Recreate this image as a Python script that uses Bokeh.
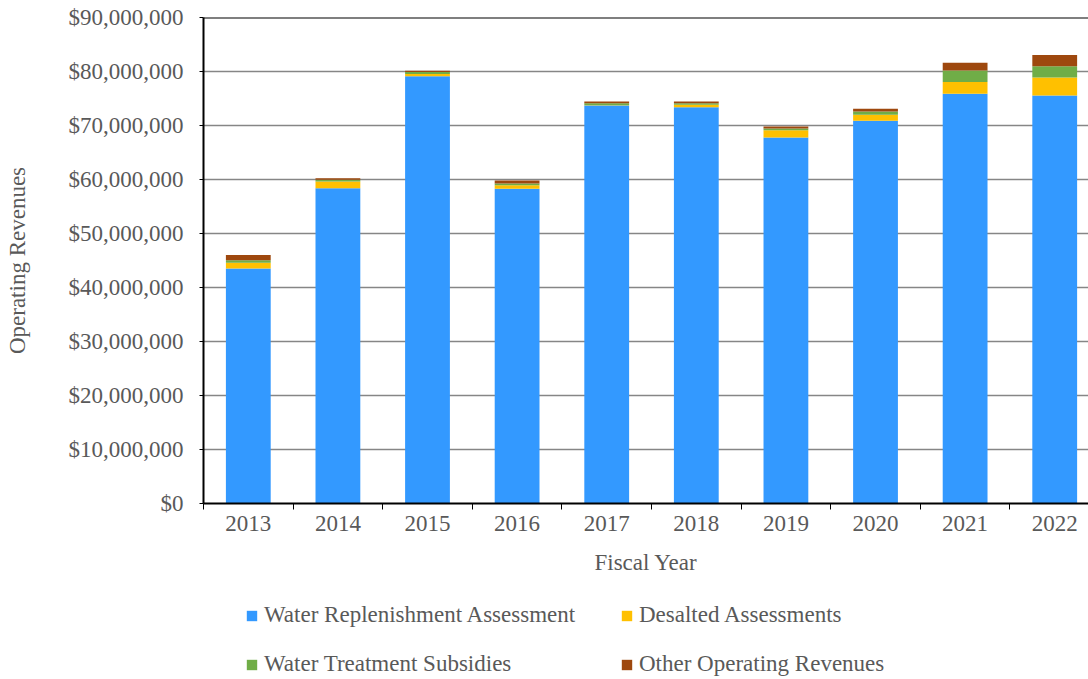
from bokeh.plotting import figure
from bokeh.layouts import column
from bokeh.models import (Range1d, FixedTicker, NumeralTickFormatter, Legend, LegendItem, Span)
from bokeh.embed import file_html
from bokeh.resources import INLINE

years = ["2013", "2014", "2015", "2016", "2017", "2018", "2019", "2020", "2021", "2022"]
water_replenishment = [43_500_000, 58_400_000, 79_100_000, 58_300_000, 73_700_000,
                       73_400_000, 67_800_000, 70_900_000, 75_900_000, 75_550_000]
desalted = [1_100_000, 1_250_000, 450_000, 650_000, 50_000,
            450_000, 1_300_000, 1_100_000, 2_150_000, 3_350_000]
treatment_subsidies = [450_000, 300_000, 350_000, 300_000, 350_000,
                       250_000, 350_000, 600_000, 2_150_000, 2_050_000]
other_revenues = [950_000, 300_000, 250_000, 550_000, 350_000,
                  350_000, 350_000, 500_000, 1_400_000, 2_100_000]

series_names = ["Water Replenishment Assessment", "Desalted Assessments",
                "Water Treatment Subsidies", "Other Operating Revenues"]
colors = ["#3399FF", "#FFC000", "#70AD47", "#9E480E"]

FONT = "Liberation Serif"
TXT = "#595959"

x = [i + 0.5 for i in range(len(years))]
data = dict(x=x, wra=water_replenishment, des=desalted, sub=treatment_subsidies, oth=other_revenues)

p = figure(width=1088, height=590, output_backend="svg", toolbar_location=None,
           x_range=Range1d(0, 9.877), y_range=Range1d(0, 90_000_000),
           min_border_left=203, min_border_right=0, min_border_top=17, min_border_bottom=87)

renderers = p.vbar_stack(["wra", "des", "sub", "oth"], x="x", width=0.5, source=data,
                         color=colors, line_color=None)

# axes
p.xaxis.ticker = FixedTicker(ticks=x, minor_ticks=list(range(0, 11)))
p.xaxis.major_label_overrides = {xx: y for xx, y in zip(x, years)}
p.xaxis.major_tick_out = 0
p.xaxis.major_tick_in = 0
p.xaxis.minor_tick_out = 6
p.xaxis.minor_tick_in = 0
p.xaxis.minor_tick_line_color = "black"
p.xaxis.minor_tick_line_width = 1
p.xaxis.major_label_standoff = 6
p.xaxis.axis_label = "Fiscal Year"
p.xaxis.axis_label_standoff = 16

p.yaxis.ticker = FixedTicker(ticks=list(range(0, 90_000_001, 10_000_000)))
p.yaxis.formatter = NumeralTickFormatter(format="$0,0")
p.yaxis.major_tick_out = 4
p.yaxis.major_tick_in = 0
p.yaxis.minor_tick_line_color = None
p.yaxis.major_label_standoff = 16
p.yaxis.axis_label = "Operating Revenues"
p.yaxis.axis_label_standoff = 36

for ax in (p.xaxis, p.yaxis):
    ax.axis_line_color = "black"
    ax.axis_line_width = 2
    ax.major_label_text_font = FONT
    ax.major_label_text_font_size = "23px"
    ax.major_label_text_color = TXT
    ax.axis_label_text_font = FONT
    ax.axis_label_text_font_size = "23px"
    ax.axis_label_text_color = TXT
    ax.axis_label_text_font_style = "normal"
p.xaxis.major_tick_line_color = None
p.yaxis.major_tick_line_color = "black"

p.xgrid.grid_line_color = None
p.ygrid.grid_line_color = "#868686"
p.ygrid.grid_line_width = 1.5
p.outline_line_color = None
p.add_layout(Span(location=p.y_range.end, dimension="width", line_color="black", line_width=2))

# legend in a separate strip below the chart (zero-size proxy glyphs)
lg = figure(width=1088, height=89, output_backend="svg", toolbar_location=None,
            x_range=Range1d(0, 1), y_range=Range1d(0, 1),
            x_axis_location=None, y_axis_location=None,
            min_border=0, min_border_left=0, min_border_right=0, min_border_top=0, min_border_bottom=0)
lg.grid.grid_line_color = None
lg.outline_line_color = None
dummy = [lg.vbar(x=[0], top=[0], width=0, color=c, line_color=None) for c in colors]

# column-major fill: col 1 = items 0,1 ; col 2 = items 2,3
order = [0, 2, 1, 3]
legend = Legend(items=[LegendItem(label=series_names[i], renderers=[dummy[i]]) for i in order],
                ncols=2, location=(42, 2))
legend.label_text_font = FONT
legend.label_text_font_size = "23px"
legend.label_text_color = TXT
legend.glyph_width = 13
legend.glyph_height = 13
legend.label_standoff = 6
legend.label_width = 333
legend.spacing = 23
legend.padding = 0
legend.margin = 0
legend.border_line_color = None
legend.background_fill_alpha = 0
lg.add_layout(legend, "center")

layout = column(p, lg, spacing=0)
open("out.html", "w").write(file_html(layout, INLINE))
